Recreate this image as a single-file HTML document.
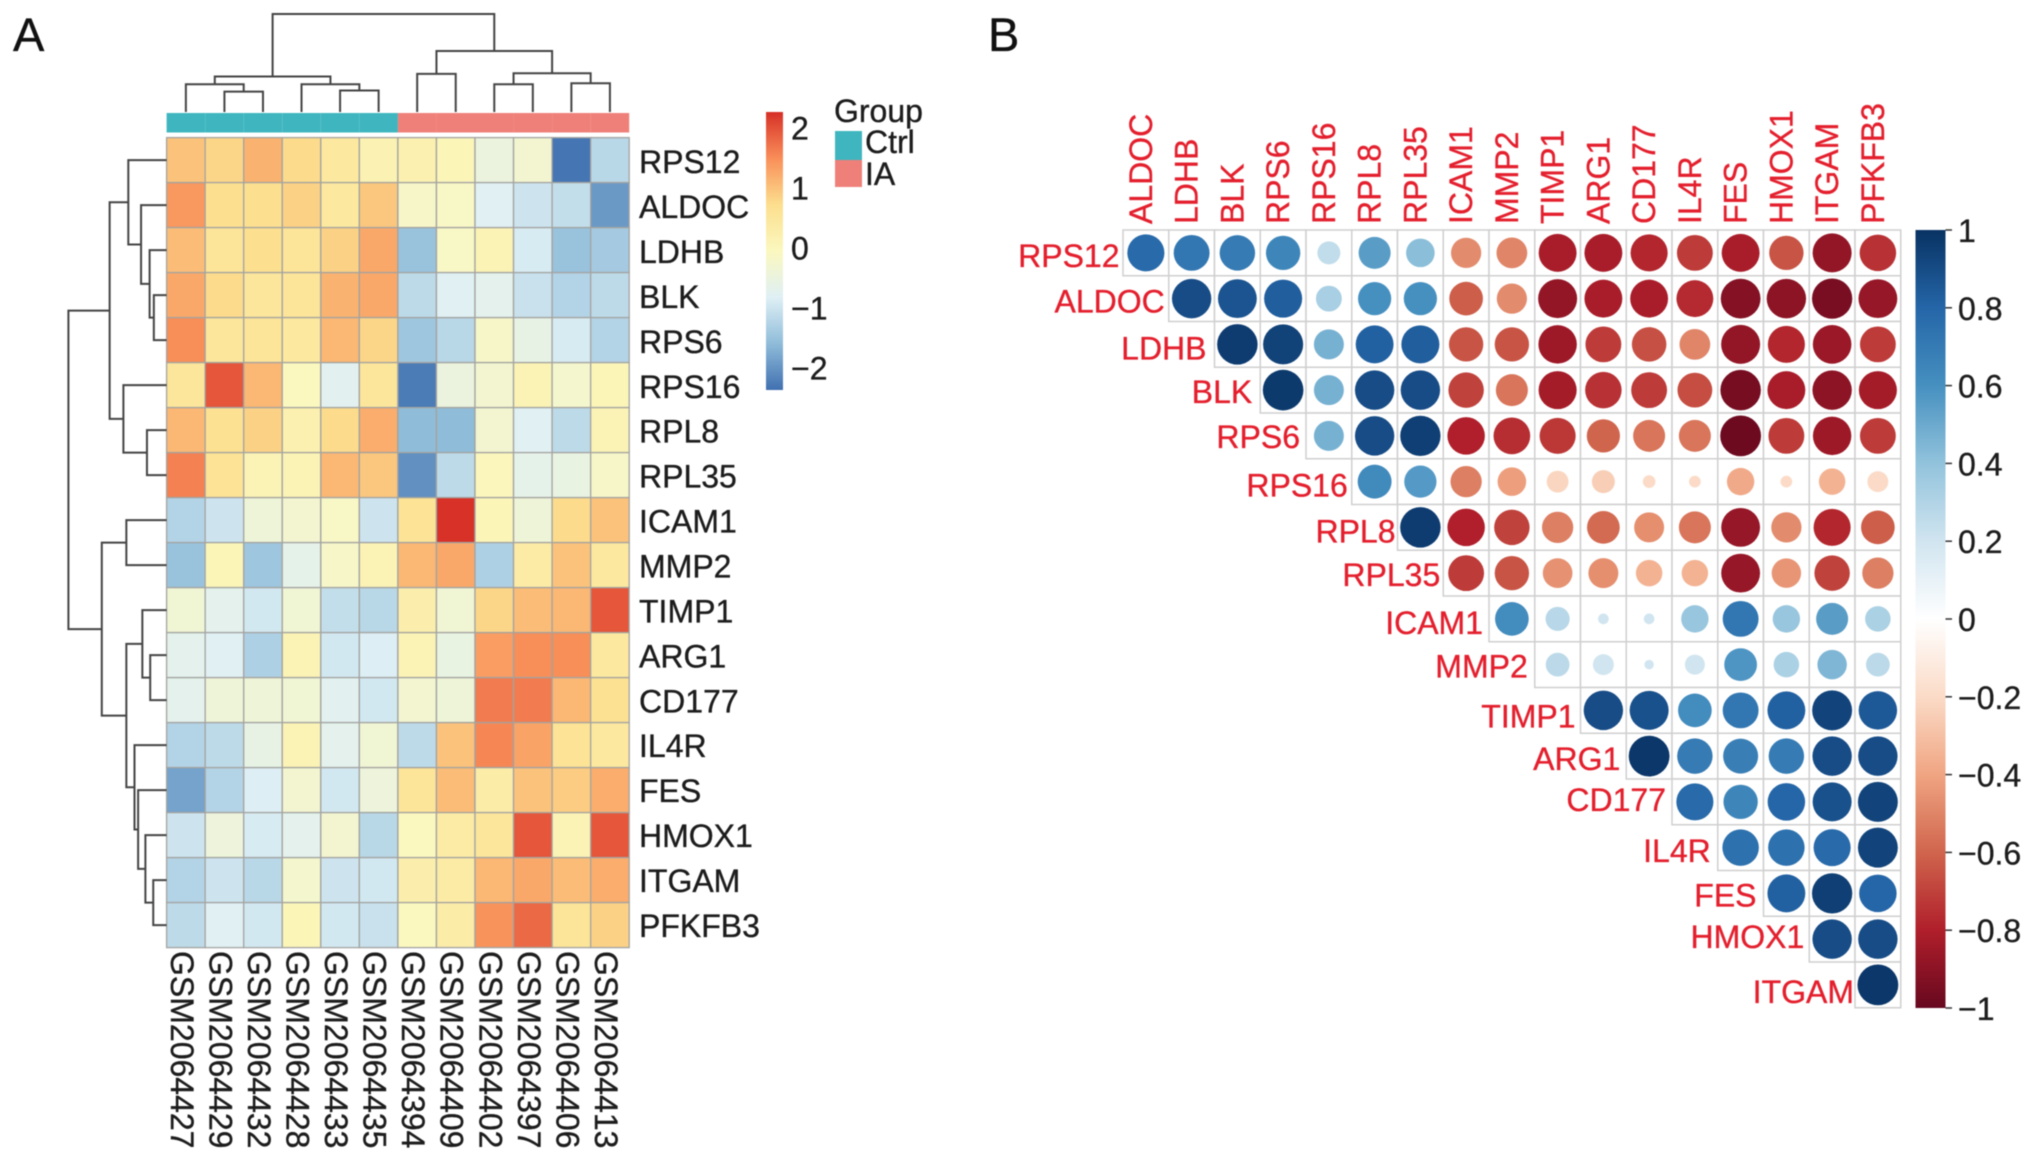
<!DOCTYPE html>
<html lang="en">
<head>
<meta charset="utf-8">
<title>Heatmap and correlation plot</title>
<style>
html,body{margin:0;padding:0;background:#fff;width:2032px;height:1159px;overflow:hidden}
svg{display:block;filter:blur(0.6px)}
text{font-family:"Liberation Sans",Arial,sans-serif;font-size:32px;fill:#1c1c1c;stroke:#1c1c1c;stroke-width:.35px}
.red{fill:#e41f2d;stroke:#e41f2d}
.panel{font-size:47px;fill:#111;stroke:#111}
</style>
</head>
<body>
<svg id="chart" xmlns="http://www.w3.org/2000/svg" width="2032" height="1159" viewBox="0 0 2032 1159">
<defs>
<linearGradient id="heat-grad" x1="0" y1="1" x2="0" y2="0"></linearGradient>
<linearGradient id="corr-grad" x1="0" y1="1" x2="0" y2="0"></linearGradient>
</defs>
<text class="panel" x="13" y="51">A</text>
<text class="panel" x="988" y="51">B</text>
<g id="panelA"></g>
<g id="panelB"></g>
</svg>
<script>
const sampleLabels = ["GSM2064427","GSM2064429","GSM2064432","GSM2064428","GSM2064433","GSM2064435","GSM2064394","GSM2064409","GSM2064402","GSM2064397","GSM2064406","GSM2064413"];
const sampleGroups = ["Ctrl","Ctrl","Ctrl","Ctrl","Ctrl","Ctrl","IA","IA","IA","IA","IA","IA"];
const heatGenes = ["RPS12","ALDOC","LDHB","BLK","RPS6","RPS16","RPL8","RPL35","ICAM1","MMP2","TIMP1","ARG1","CD177","IL4R","FES","HMOX1","ITGAM","PFKFB3"];
const heatValues = [
[1.0,0.8,1.15,0.75,0.45,0.15,0.2,0.05,-0.5,-0.3,-2.32,-1.2],
[1.4,0.7,0.7,0.85,0.45,0.95,-0.2,-0.15,-0.8,-1.0,-1.1,-1.95],
[1.05,0.55,0.7,0.55,0.85,1.25,-1.5,-0.15,0.1,-0.9,-1.5,-1.4],
[1.25,0.75,0.5,0.55,1.15,1.25,-1.15,-0.8,-0.7,-1.05,-1.25,-1.15],
[1.5,0.5,0.55,0.45,1.1,0.8,-1.45,-1.2,-0.2,-0.6,-0.9,-1.25],
[0.5,1.95,1.1,-0.05,-0.75,0.5,-2.25,-0.5,-0.3,0.1,-0.25,0.05],
[1.1,0.65,0.85,0.2,0.75,1.2,-1.6,-1.6,-0.3,-0.8,-1.15,0.1],
[1.6,0.6,0.1,0.1,1.1,0.95,-2.05,-1.15,0.0,-0.65,-0.55,-0.2],
[-1.25,-1.0,-0.4,-0.3,-0.15,-1.0,0.6,2.25,0.05,-0.4,0.75,1.0],
[-1.5,0.05,-1.45,-0.65,-0.2,0.1,1.1,1.25,-1.3,0.35,1.0,0.45],
[-0.35,-0.7,-0.95,-0.35,-1.1,-1.2,0.25,-0.35,0.8,1.05,1.1,1.95],
[-0.7,-0.8,-1.3,0.1,-0.95,-0.85,0.1,-0.55,1.35,1.5,1.5,0.45],
[-0.7,-0.4,-0.4,-0.35,-0.75,-0.95,-0.3,-0.4,1.65,1.65,1.1,0.65],
[-1.25,-1.15,-0.6,0.1,-0.7,-0.35,-1.15,1.0,1.55,1.3,0.6,0.45],
[-1.85,-1.25,-0.85,-0.3,-0.95,-0.45,0.55,1.05,0.3,1.0,0.9,1.2],
[-1.0,-0.45,-0.9,-0.7,-0.3,-1.2,-0.05,0.35,0.5,1.95,0.1,1.95],
[-1.25,-1.0,-1.2,-0.25,-1.0,-0.95,0.25,0.35,1.1,1.25,1.05,1.2],
[-1.15,-0.8,-0.95,0.05,-0.95,-1.05,-0.05,0.3,1.45,1.8,0.55,0.85]
];
const heatTicks = [2,1,0,-1,-2];
const colMerges = [[1,2,2.08],[0,"m0",2.83],[4,5,2.19],[3,"m2",2.83],["m1","m3",3.62],[6,7,3.89],[8,9,2.83],[10,11,2.94],["m6","m7",3.96],["m5","m8",6.23],["m4","m9",10]];
const rowMerges = [[3,4,1.3],[2,"m0",1.73],[1,"m1",2.6],[0,"m2",3.9],[6,7,2.0],[5,"m4",4.4],["m3","m5",5.8],[8,9,4.1],[11,12,1.67],[10,"m8",2.47],[16,17,1.36],[15,"m10",2.16],[14,"m11",2.9],[13,"m12",3.27],["m9","m13",4.1],["m7","m14",6.6],["m6","m15",10]];
const corrCols = ["ALDOC","LDHB","BLK","RPS6","RPS16","RPL8","RPL35","ICAM1","MMP2","TIMP1","ARG1","CD177","IL4R","FES","HMOX1","ITGAM","PFKFB3"];
const corrRows = ["RPS12","ALDOC","LDHB","BLK","RPS6","RPS16","RPL8","RPL35","ICAM1","MMP2","TIMP1","ARG1","CD177","IL4R","FES","HMOX1","ITGAM"];
const corrValues = [
[.78,.72,.70,.65,.25,.55,.42,-.48,-.5,-.82,-.82,-.78,-.72,-.82,-.65,-.88,-.75],
[.9,.87,.83,.33,.6,.6,-.62,-.48,-.88,-.82,-.82,-.77,-.92,-.9,-.95,-.87],
[.96,.94,.47,.82,.83,-.65,-.65,-.85,-.72,-.66,-.5,-.88,-.78,-.86,-.72],
[.97,.47,.9,.9,-.7,-.55,-.83,-.75,-.72,-.67,-.96,-.82,-.9,-.83],
[.47,.9,.95,-.8,-.76,-.73,-.6,-.55,-.55,-.98,-.72,-.85,-.72],
[.63,.56,-.52,-.42,-.22,-.25,-.06,-.05,-.38,-.05,-.35,-.2],
[.96,-.8,-.7,-.52,-.58,-.47,-.55,-.87,-.48,-.78,-.62],
[-.72,-.65,-.46,-.47,-.35,-.35,-.87,-.45,-.7,-.52],
[.62,.28,.04,.04,.38,.72,.38,.55,.32],
[.27,.2,.03,.18,.58,.32,.45,.27],
[.9,.88,.62,.72,.82,.93,.85],
[.98,.7,.68,.7,.9,.9],
[.78,.65,.8,.88,.93],
[.75,.75,.78,.93],
[.82,.95,.8],
[.9,.9],
[.98]
];
const corrTicks = [1,0.8,0.6,0.4,0.2,0,-0.2,-0.4,-0.6,-0.8,-1];

const NS = "http://www.w3.org/2000/svg";
const panelA = document.getElementById("panelA");
const panelB = document.getElementById("panelB");
function make(parent, tag, attrs, txt){
  const el = document.createElementNS(NS, tag);
  for (const k in attrs) el.setAttribute(k, attrs[k]);
  if (txt !== undefined) el.textContent = txt;
  parent.appendChild(el);
  return el;
}
function hex(c){return [1,3,5].map(i=>parseInt(c.substr(i,2),16));}
function ramp(stops, t){
  t = Math.max(0, Math.min(1, t));
  const p = t*(stops.length-1), i = Math.min(Math.floor(p), stops.length-2), f = p-i;
  const a = hex(stops[i]), b = hex(stops[i+1]);
  return "rgb("+a.map((v,k)=>Math.round(v+(b[k]-v)*f)).join(",")+")";
}
function minusText(v){return v<0 ? "\u2212"+Math.abs(v) : String(v);}

/* ---------- Panel A: heatmap ---------- */
const heatStops = ["#4070b0","#8fbcd9","#dff0f5","#fbf8bf","#fcdf8e","#f98f59","#d73027"];
const heatMin = -2.37, heatMax = 2.26;
const hx0 = 166.6, hy0 = 137.6, cw = 38.55, ch = 45;
const heatColor = v => ramp(heatStops, (v-heatMin)/(heatMax-heatMin));
const hxScale = i => hx0 + i*cw;
const hyScale = i => hy0 + i*ch;
const legendY = v => 248 - v*60;

heatValues.forEach((row,r)=>{
  row.forEach((v,c)=>{
    const cell = make(panelA,"rect",{x:hxScale(c),y:hyScale(r),width:cw,height:ch,fill:heatColor(v),stroke:"#a3a3a0","stroke-width":1.3});
    
    
  });
});
heatGenes.forEach((g,r)=>{
  const t = make(panelA,"text",{x:639,y:hyScale(r)+ch/2+13-r*0.07},g);
  
  
});
sampleLabels.forEach((s,c)=>{
  const x = hxScale(c)+cw/2-15;
  const t = make(panelA,"text",{x:0,y:0,transform:"translate("+x+",951) rotate(90)"},s);
  
  
});
const groupColors = {Ctrl:"#3fb6bf",IA:"#ef8079"};
sampleGroups.forEach((g,c)=>{
  const a = make(panelA,"rect",{x:hxScale(c),y:113,width:cw,height:19.5,fill:groupColors[g]});
  
  
});
function drawDendro(merges, leafPos, heightPos, vertical, name){
  const nodes = {};
  const pos = ref => typeof ref === "number" ? {p:leafPos(ref), h:heightPos(0)} : nodes[ref];
  merges.forEach((m,i)=>{
    const a = pos(m[0]), b = pos(m[1]), h = heightPos(m[2]);
    const d = vertical
      ? "M"+a.p+" "+a.h+"V"+h+"H"+b.p+"V"+b.h
      : "M"+a.h+" "+a.p+"H"+h+"V"+b.p+"H"+b.h;
    const path = make(panelA,"path",{d:d,fill:"none",stroke:"#444","stroke-width":2});
    
    
    nodes["m"+i] = {p:(a.p+b.p)/2, h:h};
  });
}
drawDendro(colMerges, i=>hxScale(i)+cw/2, h=>112-h*9.8, true, "column-dendrogram-branch");
drawDendro(rowMerges, i=>hyScale(i)+ch/2, h=>166.6-h*9.82, false, "row-dendrogram-branch");

const hg = document.getElementById("heat-grad");
heatStops.forEach((c,i)=>{make(hg,"stop",{offset:i/(heatStops.length-1),"stop-color":c});});
const hl = make(panelA,"rect",{x:766,y:112,width:17,height:278,fill:"url(#heat-grad)"});


heatTicks.forEach(v=>{
  const t = make(panelA,"text",{x:791,y:legendY(v)+11.5},minusText(v));
  
  
});
const gt = make(panelA,"text",{x:834,y:122},"Group");


const lc = make(panelA,"rect",{x:835,y:131,width:27,height:29,fill:groupColors.Ctrl});


const li = make(panelA,"rect",{x:835,y:160,width:27,height:27,fill:groupColors.IA});


const ltc = make(panelA,"text",{x:865,y:153},"Ctrl");


const lti = make(panelA,"text",{x:865,y:185},"IA");



/* ---------- Panel B: correlation plot ---------- */
const corrStops = ["#67081f","#b01f2b","#d0654d","#f0a582","#fbdbc7","#ffffff","#d1e5f0","#92c3dc","#4690c0","#2566a8","#083263"];
const bx0 = 1123, by0 = 230, bc = 45.75;
const corrColor = v => {
  const shown = Math.abs(v) < 0.2 ? Math.sign(v)*0.2 : v;
  return ramp(corrStops, (shown+1)/2);
};
const bxScale = i => bx0 + i*bc;
const byScale = i => by0 + i*bc;
const barY = v => 619 - v*389;
const radius = v => bc*0.45*Math.pow(Math.abs(v),0.42);
const rowLabelDy = [14,14,15,13,12,15,15,13,15,13,17,14,9,14.5,13,9,18];
const rowLabelGap = [3.5,4,8,8,6,4,2,3,6,7,5,6,6,7,7,5,1];

corrValues.forEach((row,r)=>{
  row.forEach((v,k)=>{
    const c = r+k;
    const cell = make(panelB,"rect",{x:bxScale(c),y:byScale(r),width:bc,height:bc,fill:"#fff",stroke:"#cfcfcf","stroke-width":1.5});
    
    
  });
});
corrValues.forEach((row,r)=>{
  row.forEach((v,k)=>{
    const c = r+k;
    const dot = make(panelB,"circle",{cx:bxScale(c)+bc/2,cy:byScale(r)+bc/2,r:radius(v),fill:corrColor(v)});
    
    
  });
});
corrCols.forEach((g,c)=>{
  const x = bxScale(c)+bc/2+6;
  const t = make(panelB,"text",{class:"red",x:0,y:0,transform:"translate("+x+",224) rotate(-90)"},g);
  
  
});
corrRows.forEach((g,r)=>{
  const t = make(panelB,"text",{class:"red","text-anchor":"end",x:bxScale(r)-rowLabelGap[r],y:byScale(r)+bc/2+rowLabelDy[r]},g);
  
  
});
const cg = document.getElementById("corr-grad");
corrStops.forEach((c,i)=>{make(cg,"stop",{offset:i/(corrStops.length-1),"stop-color":c});});
const cb = make(panelB,"rect",{x:1915.5,y:230,width:30,height:778,fill:"url(#corr-grad)"});


corrTicks.forEach(v=>{
  const y = barY(v);
  const tick = make(panelB,"line",{x1:1945.5,x2:1952,y1:y,y2:y,stroke:"#333","stroke-width":1.5});
  
  
  const t = make(panelB,"text",{x:1958,y:y+12},minusText(v));
  
  
});
</script>
</body>
</html>
